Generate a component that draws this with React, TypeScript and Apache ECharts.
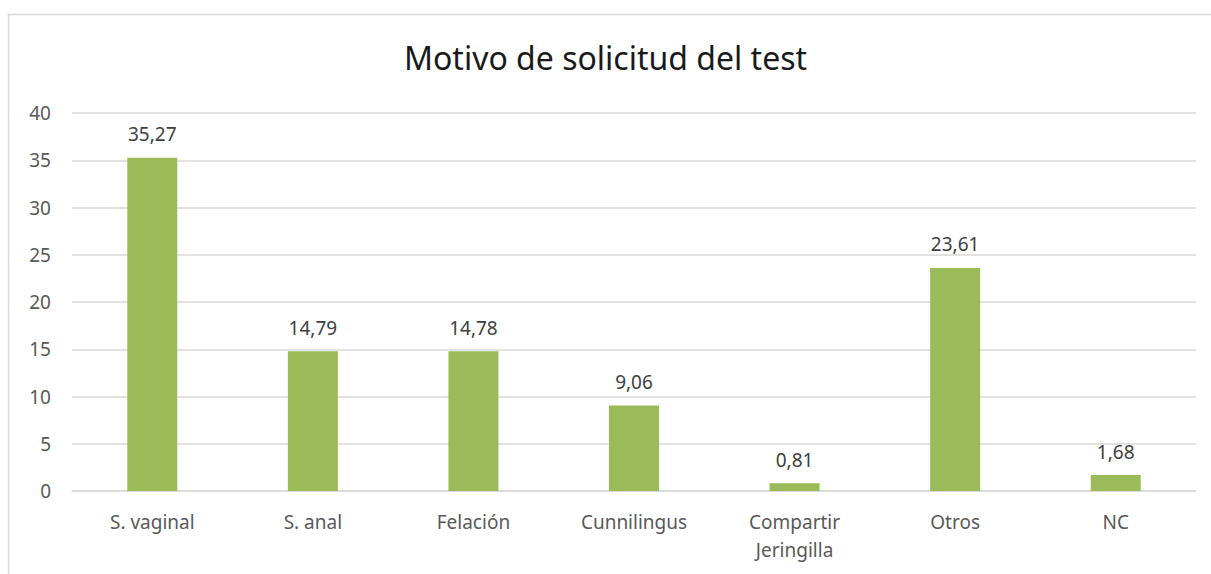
import React, { useEffect, useRef } from "react";
import * as echarts from "echarts";

const categories = ["S. vaginal", "S. anal", "Felación", "Cunnilingus", "Compartir\nJeringilla", "Otros", "NC"];
const values = [35.27, 14.79, 14.78, 9.06, 0.81, 23.61, 1.68];
const yTicks = { min: 0, max: 40, interval: 5 };
const titleText = "Motivo de solicitud del test";

export default function App() {
  const ref = useRef<HTMLDivElement>(null);
  useEffect(() => {
    if (!ref.current) return;
    const chart = echarts.init(ref.current, null, { renderer: "svg" });
    const font = "'Noto Sans', 'Open Sans', sans-serif";
    chart.setOption({
      animation: false,
      backgroundColor: "#ffffff",
      title: {
        text: titleText,
        left: "center",
        top: 36,
        textStyle: { fontFamily: font, fontSize: 32, fontWeight: "normal", color: "#1a1a1a" },
      },
      graphic: [
        {
          type: "rect",
          shape: { x: 8.5, y: 14.5, width: 1300, height: 700 },
          style: { fill: "none", stroke: "#d9d9d9", lineWidth: 1.5 },
          silent: true,
        },
      ],
      grid: { left: 72, right: 15, top: 113, bottom: 83, containLabel: false },
      xAxis: {
        type: "category",
        data: categories,
        axisLine: { show: true, lineStyle: { color: "#d9d9d9", width: 1.5 } },
        axisTick: { show: false },
        axisLabel: { color: "#595959", fontFamily: font, fontSize: 19, margin: 17, lineHeight: 28, interval: 0 },
      },
      yAxis: {
        type: "value",
        min: yTicks.min,
        max: yTicks.max,
        interval: yTicks.interval,
        axisLine: { show: false },
        axisTick: { show: false },
        splitLine: { lineStyle: { color: "#d9d9d9", width: 1.5 } },
        axisLabel: { color: "#595959", fontFamily: font, fontSize: 19, margin: 21 },
      },
      series: [
        {
          type: "bar",
          data: values,
          barWidth: 50,
          itemStyle: { color: "#9bbb59" },
          label: {
            show: true,
            position: "top",
            distance: 14,
            color: "#404040",
            fontFamily: font,
            fontSize: 19,
            formatter: (p: any) => Number(p.value).toFixed(2).replace(".", ","),
          },
        },
      ],
    });
    return () => chart.dispose();
  }, []);
  return <div ref={ref} style={{ position: "absolute", left: 0, top: 0, width: 1211, height: 574 }} />;
}
